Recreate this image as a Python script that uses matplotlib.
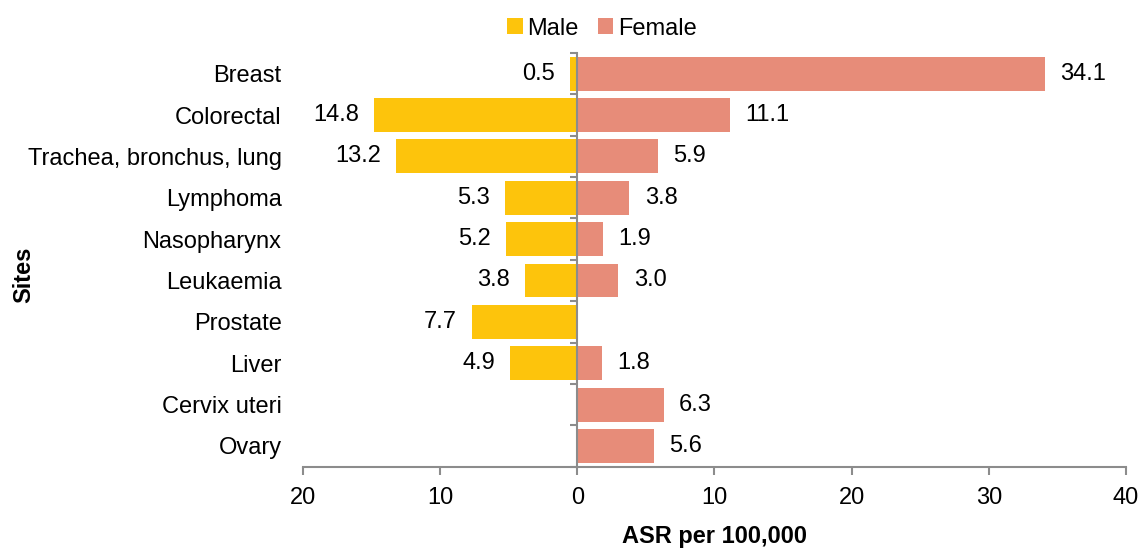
import matplotlib.pyplot as plt
from matplotlib.patches import Rectangle
import numpy as np

# Data
sites = ['Breast', 'Colorectal', 'Trachea, bronchus, lung', 'Lymphoma',
         'Nasopharynx', 'Leukaemia', 'Prostate', 'Liver', 'Cervix uteri', 'Ovary']
male = [0.5, 14.8, 13.2, 5.3, 5.2, 3.8, 7.7, 4.9, None, None]
female = [34.1, 11.1, 5.9, 3.8, 1.9, 3.0, None, 1.8, 6.3, 5.6]
xticks = [-20, -10, 0, 10, 20, 30, 40]
xtick_labels = ['20', '10', '0', '10', '20', '30', '40']

male_color = '#FDC40C'
female_color = '#E78C79'
axis_color = '#8C8C8C'

plt.rcParams['font.family'] = ['Liberation Sans Narrow', 'Liberation Sans', 'DejaVu Sans']
fs = 17

fig = plt.figure(figsize=(11.4, 5.49), dpi=100)
ax = fig.add_axes([0.2658, 0.150, 0.7219, 0.7535])

y = np.arange(len(sites))
m_vals = [v if v is not None else 0 for v in male]
f_vals = [v if v is not None else 0 for v in female]

ax.barh(y, [-v for v in m_vals], height=0.82, color=male_color, label='Male')
ax.barh(y, f_vals, height=0.82, color=female_color, label='Female')

# Value labels
for i, v in enumerate(male):
    if v is None:
        continue
    ax.annotate(f'{v:.1f}', (-v, i), xytext=(-11, 0), textcoords='offset points',
                ha='right', va='center', fontsize=fs)
for i, v in enumerate(female):
    if v is None:
        continue
    ax.annotate(f'{v:.1f}', (v, i), xytext=(11, 0), textcoords='offset points',
                ha='left', va='center', fontsize=fs)

ax.set_xlim(-20, 40)
ax.set_ylim(len(sites) - 0.5, -0.5)
ax.set_xticks(xticks)
ax.set_xticklabels(xtick_labels)

# Axes styling
for s in ['top', 'right']:
    ax.spines[s].set_visible(False)
ax.spines['left'].set_position(('data', 0))
ax.spines['left'].set_color(axis_color)
ax.spines['left'].set_linewidth(1.5)
ax.spines['bottom'].set_color(axis_color)
ax.spines['bottom'].set_linewidth(1.5)
ax.tick_params(axis='x', length=6, width=1.5, color=axis_color, pad=9, labelsize=fs)

ax.set_yticks(y)
ax.set_yticklabels(sites)
ax.set_yticks(np.arange(len(sites) + 1) - 0.5, minor=True)
ax.tick_params(axis='y', which='major', length=0, pad=213, labelsize=fs)
ax.tick_params(axis='y', which='minor', length=5, width=1.5, color=axis_color)

ax.set_xlabel('ASR per 100,000', fontweight='bold', fontsize=fs, labelpad=11)
fig.text(0.021, 0.5, 'Sites', rotation=90, fontweight='bold', fontsize=fs,
         ha='center', va='center')

handles = [Rectangle((0, 0), 1, 1, fc=male_color), Rectangle((0, 0), 1, 1, fc=female_color)]
fig.legend(handles, ['Male', 'Female'], loc='center', bbox_to_anchor=(0.528, 0.948),
           ncol=2, frameon=False, fontsize=fs, handlelength=0.65, handleheight=0.65,
           handletextpad=0.2, columnspacing=0.8)

fig.savefig('out.png', dpi=100)
